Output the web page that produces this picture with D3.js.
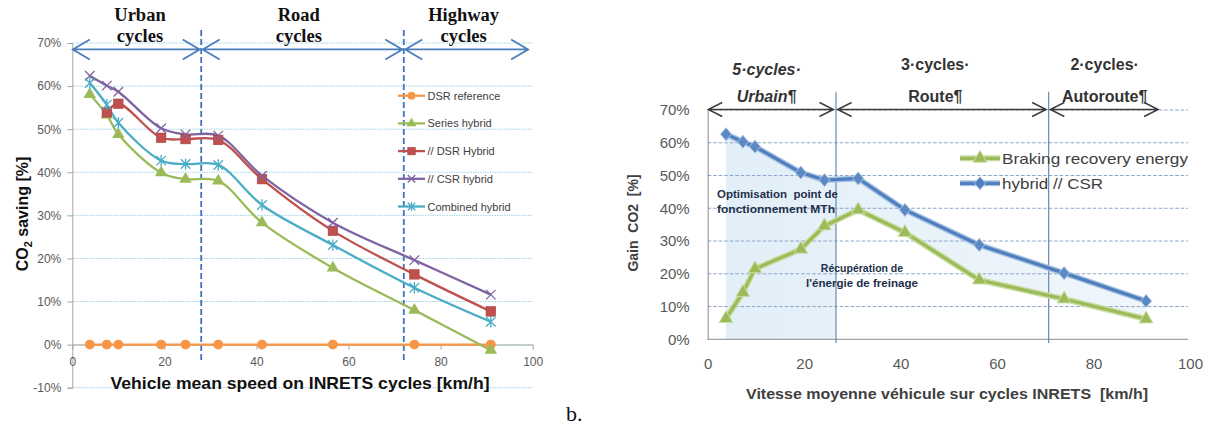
<!DOCTYPE html>
<html><head><meta charset="utf-8">
<script src="https://cdn.jsdelivr.net/npm/d3@7"></script>
<style>body{margin:0;background:#fff}svg{display:block}</style>
</head><body>
<script>
// ---------- DATA (chart a) ----------
const speedsA = [3.8, 7.5, 10, 19.3, 24.6, 31.7, 41.2, 56.6, 74.3, 90.9];
const dsrReference   = [0, 0, 0, 0, 0, 0, 0, 0, 0, 0];
const seriesHybrid   = [58.1, 53.3, 48.8, 39.9, 38.4, 38.0, 28.3, 17.8, 8.0, -1.3];
const dsrHybrid      = [null, 53.9, 55.9, 48.0, 47.7, 47.5, 38.4, 26.4, 16.3, 7.7];
const csrHybrid      = [62.4, 60.1, 58.7, 50.2, 48.8, 48.5, 39.2, 28.3, 19.6, 11.6];
const combinedHybrid = [60.7, 55.7, 51.5, 42.7, 41.9, 41.7, 32.4, 23.1, 13.2, 5.3];
const seriesNamesA = ["DSR reference", "Series hybrid", "// DSR Hybrid", "// CSR hybrid", "Combined hybrid"];
const yTicksA = [-10, 0, 10, 20, 30, 40, 50, 60, 70];
const xTicksA = [0, 20, 40, 60, 80, 100];
const cycleBoundsA = [28, 72];
const cycleLabelsA = [["Urban", "cycles"], ["Road", "cycles"], ["Highway", "cycles"]];
const cycleLabelXA = [14.7, 49.2, 85];

// ---------- DATA (chart b) ----------
const speedsB = [3.8, 7.3, 9.8, 19.3, 24.2, 31.2, 40.9, 56.3, 73.9, 90.9];
const brakingRecovery = [6.3, 14.3, 21.5, 27.5, 34.6, 39.5, 32.6, 18.1, 12.3, 6.2];
const hybridCSR       = [62.6, 60.3, 58.8, 50.9, 48.6, 49.1, 39.5, 28.8, 20.2, 11.7];
const seriesNamesB = ["Braking recovery energy", "hybrid // CSR"];
const yTicksB = [0, 10, 20, 30, 40, 50, 60, 70];
const xTicksB = [0, 20, 40, 60, 80, 100];
const cycleBoundsB = [26.6, 70.7];
const cycleLabelsB = [["5·cycles·", "Urbain¶"], ["3·cycles·", "Route¶"], ["2·cycles·", "Autoroute¶"]];
const cycleLabelXB = [12.2, 47.2, 82.3];

const SANS = "'Liberation Sans', Arial, sans-serif";
const SERIF = "'Liberation Serif', 'Times New Roman', serif";

const svg = d3.select("body").append("svg").attr("width", 1213).attr("height", 425);
svg.append("rect").attr("width", 1213).attr("height", 425).attr("fill", "#fff");

function arrow(g, x1, x2, y, L, h, color, w) {
  const p = d3.path();
  p.moveTo(x1, y); p.lineTo(x2, y);
  p.moveTo(x1 + L, y - h); p.lineTo(x1, y); p.lineTo(x1 + L, y + h);
  p.moveTo(x2 - L, y - h); p.lineTo(x2, y); p.lineTo(x2 - L, y + h);
  g.append("path").attr("d", p.toString()).attr("fill", "none")
    .attr("stroke", color).attr("stroke-width", w).attr("stroke-linejoin", "miter");
}

// =============== CHART A ===============
(function () {
  const x = d3.scaleLinear().domain([0, 100]).range([72.3, 532.7]);
  const y = d3.scaleLinear().domain([-10, 70]).range([387.7, 43]);
  const g = svg.append("g");

  g.append("g").selectAll("line").data(yTicksA).join("line")
    .attr("x1", x(0)).attr("x2", x(100)).attr("y1", d => y(d)).attr("y2", d => y(d))
    .attr("stroke", "#8fcbe0").attr("stroke-width", 1).attr("stroke-dasharray", "1.2,1.2");

  const ya = g.append("g").attr("transform", `translate(${x(0)},0)`)
    .call(d3.axisLeft(y).tickValues(yTicksA).tickSize(5).tickPadding(6).tickFormat(d => d + "%"));
  ya.select(".domain").attr("stroke", "#a6a6a6");
  ya.selectAll(".tick line").attr("stroke", "#a6a6a6");
  ya.selectAll("text").attr("font-family", SANS).attr("font-size", 12).attr("fill", "#595959");

  const xa = g.append("g").attr("transform", `translate(0,${y(0)})`)
    .call(d3.axisBottom(x).tickValues(xTicksA).tickSize(5).tickPadding(8).tickSizeOuter(0));
  xa.select(".domain").attr("stroke", "#a6a6a6");
  xa.selectAll(".tick line").attr("stroke", "#a6a6a6");
  xa.selectAll("text").attr("font-family", SANS).attr("font-size", 12).attr("fill", "#595959");

  g.selectAll(".bound").data(cycleBoundsA).join("line")
    .attr("x1", d => x(d)).attr("x2", d => x(d)).attr("y1", 30).attr("y2", 362)
    .attr("stroke", "#3d74c6").attr("stroke-width", 1.8).attr("stroke-dasharray", "6,3");

  const edges = [0, ...cycleBoundsA, 99];
  for (let i = 0; i < 3; i++) {
    const a = x(edges[i]) + (i === 0 ? 0.5 : 1.5);
    const b = x(edges[i + 1]) - (i === 2 ? 0 : 1.5);
    arrow(g, a, b, y(68.5), 17, 10, "#4a7ebb", 1.8);
  }
  cycleLabelsA.forEach((lines, i) => {
    lines.forEach((t, j) => {
      g.append("text").attr("x", x(cycleLabelXA[i])).attr("y", 21 + j * 20.5)
        .attr("text-anchor", "middle").attr("font-family", SERIF).attr("font-weight", "bold")
        .attr("font-size", 18.5).attr("fill", "#111").text(t);
    });
  });

  const colors = ["#F79646", "#9BBB59", "#C0504D", "#8064A2", "#4BACC6"];
  const seriesVals = [dsrReference, seriesHybrid, dsrHybrid, csrHybrid, combinedHybrid];
  const markers = ["circle", "triangle", "square", "cross", "star"];
  const line = d3.line().defined(d => d[1] !== null).x(d => x(d[0])).y(d => y(d[1]))
    .curve(d3.curveCatmullRom.alpha(0.5));

  function marker(sel, type, color, s) {
    if (type === "circle") {
      sel.append("circle").attr("r", s * 0.52).attr("fill", color);
    } else if (type === "triangle") {
      sel.append("path").attr("d", d3.symbol(d3.symbolTriangle, s * s * 0.75)()).attr("fill", color);
    } else if (type === "square") {
      sel.append("rect").attr("x", -s / 2).attr("y", -s / 2).attr("width", s).attr("height", s)
        .attr("fill", color).attr("stroke", "#a5403d").attr("stroke-width", 0.6);
    } else if (type === "cross") {
      const r = s * 0.5;
      sel.append("path").attr("d", `M${-r},${-r}L${r},${r}M${-r},${r}L${r},${-r}`)
        .attr("stroke", color).attr("stroke-width", 1.3).attr("fill", "none");
    } else {
      const r = s * 0.5;
      sel.append("path").attr("d", `M${-r},${-r}L${r},${r}M${-r},${r}L${r},${-r}M0,${-r * 1.2}L0,${r * 1.2}`)
        .attr("stroke", color).attr("stroke-width", 1.3).attr("fill", "none");
    }
  }

  seriesVals.forEach((vals, si) => {
    const pts = speedsA.map((s, i) => [s, vals[i]]);
    g.append("path").attr("d", line(pts)).attr("fill", "none")
      .attr("stroke", colors[si]).attr("stroke-width", 2.3);
  });
  seriesVals.forEach((vals, si) => {
    speedsA.forEach((s, i) => {
      if (vals[i] === null) return;
      const m = g.append("g").attr("transform", `translate(${x(s)},${y(vals[i])})`);
      marker(m, markers[si], colors[si], 9.5);
    });
  });

  const lg = g.append("g");
  seriesNamesA.forEach((n, i) => {
    const yy = 95.7 + i * 27.7;
    lg.append("line").attr("x1", 398).attr("x2", 425).attr("y1", yy).attr("y2", yy)
      .attr("stroke", colors[i]).attr("stroke-width", 2.3);
    const m = lg.append("g").attr("transform", `translate(411.5,${yy})`);
    marker(m, markers[i], colors[i], 7.5);
    lg.append("text").attr("x", 427.5).attr("y", yy + 4).attr("font-family", SANS)
      .attr("font-size", 11).attr("fill", "#404040").text(n);
  });

  const yt = g.append("text").attr("transform", `translate(28,214) rotate(-90)`)
    .attr("text-anchor", "middle").attr("font-family", SANS).attr("font-weight", "bold")
    .attr("font-size", 16).attr("fill", "#111");
  yt.append("tspan").text("CO");
  yt.append("tspan").attr("font-size", 11).attr("dy", 4).text("2");
  yt.append("tspan").attr("dy", -4).text(" saving [%]");

  g.append("text").attr("x", 300).attr("y", 389.3).attr("text-anchor", "middle")
    .attr("font-family", SANS).attr("font-weight", "bold").attr("font-size", 17)
    .attr("textLength", 379).attr("lengthAdjust", "spacingAndGlyphs")
    .attr("fill", "#111").text("Vehicle mean speed on INRETS cycles [km/h]");

  g.append("text").attr("x", 566).attr("y", 421).attr("font-family", SERIF)
    .attr("font-size", 22).attr("fill", "#111").text("b.");
})();

// =============== CHART B ===============
(function () {
  const x = d3.scaleLinear().domain([0, 100]).range([707.7, 1190]);
  const y = d3.scaleLinear().domain([0, 70]).range([339.3, 110]);
  const g = svg.append("g");
  const xEnd = 1188;

  const defs = svg.append("defs");
  const grad = defs.append("linearGradient").attr("id", "shadeB").attr("x1", "0").attr("x2", "1").attr("y1", "0").attr("y2", "0");
  grad.append("stop").attr("offset", "0").attr("stop-color", "#e2eff8");
  grad.append("stop").attr("offset", "1").attr("stop-color", "#f0f6fb");
  defs.append("clipPath").attr("id", "clipLeftB").append("rect")
    .attr("x", x(0)).attr("y", 0).attr("width", x(cycleBoundsB[0]) - x(0)).attr("height", 425);
  defs.append("clipPath").attr("id", "clipRightB").append("rect")
    .attr("x", x(cycleBoundsB[0])).attr("y", 0).attr("width", 500).attr("height", 425);

  const ptsBlue = speedsB.map((s, i) => [s, hybridCSR[i]]);
  const ptsGreen = speedsB.map((s, i) => [s, brakingRecovery[i]]);

  g.append("path").attr("clip-path", "url(#clipLeftB)")
    .attr("d", d3.area().x(d => x(d[0])).y0(y(0)).y1(d => y(d[1]))(ptsBlue))
    .attr("fill", "url(#shadeB)");
  const both = speedsB.map((s, i) => [s, hybridCSR[i], brakingRecovery[i]]);
  g.append("path").attr("clip-path", "url(#clipRightB)")
    .attr("d", d3.area().x(d => x(d[0])).y0(d => y(d[2])).y1(d => y(d[1]))(both))
    .attr("fill", "url(#shadeB)");

  g.append("g").selectAll("line").data(yTicksB.filter(d => d > 0)).join("line")
    .attr("x1", x(0)).attr("x2", xEnd).attr("y1", d => y(d)).attr("y2", d => y(d))
    .attr("stroke", "#7f9cc0").attr("stroke-width", 0.9).attr("stroke-dasharray", "3.5,2");

  const ya = g.append("g").attr("transform", `translate(${x(0)},0)`)
    .call(d3.axisLeft(y).tickValues(yTicksB).tickSize(0).tickPadding(18).tickFormat(d => d + "%"));
  ya.select(".domain").attr("stroke", "#8c8c8c");
  ya.selectAll("text").attr("font-family", SANS).attr("font-size", 15).attr("fill", "#595959");
  const xa = g.append("g").attr("transform", `translate(0,${y(0)})`)
    .call(d3.axisBottom(x).tickValues(xTicksB).tickSize(0).tickPadding(19));
  xa.select(".domain").remove();
  g.append("line").attr("x1", x(0)).attr("x2", xEnd).attr("y1", y(0)).attr("y2", y(0))
    .attr("stroke", "#8c8c8c").attr("stroke-width", 1);
  xa.selectAll("text").attr("font-family", SANS).attr("font-size", 15).attr("fill", "#595959");

  g.selectAll(".boundB").data(cycleBoundsB).join("line")
    .attr("x1", d => x(d)).attr("x2", d => x(d)).attr("y1", 91.7).attr("y2", 343)
    .attr("stroke", "#5b80ab").attr("stroke-width", 1.1);

  const edges = [0, ...cycleBoundsB, 93.4];
  for (let i = 0; i < 3; i++) {
    const a = x(edges[i]) + (i === 0 ? 0.5 : 1.6);
    const b = x(edges[i + 1]) - (i === 2 ? 0 : 2.5);
    arrow(g, a, b, y(70) - 0.5, 14, 7, "#3a3a3a", 1.4);
  }
  cycleLabelsB.forEach((lines, i) => {
    lines.forEach((t, j) => {
      g.append("text").attr("x", x(cycleLabelXB[i])).attr("y", (i === 0 ? 75 : 70) + j * (i === 0 ? 26.7 : 31.7))
        .attr("text-anchor", "middle").attr("font-family", SANS).attr("font-weight", "bold")
        .attr("font-style", i === 0 ? "italic" : "normal")
        .attr("font-size", 16).attr("fill", "#333").text(t);
    });
  });

  const ann = [["Optimisation  point de", 717, 198, "start", 121], ["fonctionnement MTh", 717, 213, "start", 118],
               ["Récupération de", 862, 272, "middle", 0], ["l'énergie de freinage", 862, 287, "middle", 112]];
  ann.forEach(a => {
    const t = g.append("text").attr("x", a[1]).attr("y", a[2]).attr("text-anchor", a[3])
      .attr("font-family", SANS).attr("font-weight", "bold").attr("font-size", 10.5)
      .attr("fill", "#1f2f4a").style("white-space", "pre").text(a[0]);
    if (a[4]) t.attr("textLength", a[4]).attr("lengthAdjust", "spacingAndGlyphs");
  });

  const lin = d3.line().x(d => x(d[0])).y(d => y(d[1]));
  g.append("path").attr("d", lin(ptsGreen)).attr("fill", "none").attr("stroke", "#c9dda3").attr("stroke-width", 6).attr("stroke-linejoin", "round");
  g.append("path").attr("d", lin(ptsGreen)).attr("fill", "none").attr("stroke", "#9BBB59").attr("stroke-width", 3.2).attr("stroke-linejoin", "round");
  g.append("path").attr("d", lin(ptsBlue)).attr("fill", "none").attr("stroke", "#a9c3e2").attr("stroke-width", 6).attr("stroke-linejoin", "round");
  g.append("path").attr("d", lin(ptsBlue)).attr("fill", "none").attr("stroke", "#4f7fbe").attr("stroke-width", 3.2).attr("stroke-linejoin", "round");

  const tri = d3.symbol(d3.symbolTriangle, 80)();
  const dia = `M0,-6.5L5.5,0L0,6.5L-5.5,0Z`;
  ptsGreen.forEach(p => g.append("path").attr("d", tri).attr("transform", `translate(${x(p[0])},${y(p[1])})`)
    .attr("fill", "#9BBB59").attr("stroke", "#c9dda3").attr("stroke-width", 1));
  ptsBlue.forEach(p => g.append("path").attr("d", dia).attr("transform", `translate(${x(p[0])},${y(p[1])})`)
    .attr("fill", "#5b89c4").attr("stroke", "#a9c3e2").attr("stroke-width", 1));

  const lyy = [158.3, 183.3];
  [["#9BBB59", "#c9dda3", tri, 186], ["#4f7fbe", "#a9c3e2", dia, 101]].forEach((c, i) => {
    g.append("line").attr("x1", 960).attr("x2", 1000).attr("y1", lyy[i]).attr("y2", lyy[i]).attr("stroke", c[1]).attr("stroke-width", 6);
    g.append("line").attr("x1", 960).attr("x2", 1000).attr("y1", lyy[i]).attr("y2", lyy[i]).attr("stroke", c[0]).attr("stroke-width", 3.2);
    g.append("path").attr("d", c[2]).attr("transform", `translate(980,${lyy[i]})`).attr("fill", c[0]).attr("stroke", c[1]);
    g.append("text").attr("x", 1002).attr("y", lyy[i] + 5.5).attr("font-family", SANS).attr("font-size", 15)
      .attr("fill", "#404040").attr("textLength", c[3]).attr("lengthAdjust", "spacingAndGlyphs").text(seriesNamesB[i]);
  });

  g.append("text").attr("transform", `translate(638,223) rotate(-90)`).attr("text-anchor", "middle")
    .attr("font-family", SANS).attr("font-weight", "bold").attr("font-size", 14).attr("fill", "#404040")
    .style("white-space", "pre").text("Gain  CO2  [%]");
  g.append("text").attr("x", 947).attr("y", 399).attr("text-anchor", "middle")
    .attr("font-family", SANS).attr("font-weight", "bold").attr("font-size", 15).attr("fill", "#404040")
    .attr("textLength", 402).attr("lengthAdjust", "spacingAndGlyphs")
    .style("white-space", "pre").text("Vitesse moyenne véhicule sur cycles INRETS  [km/h]");
})();
</script>
</body></html>
